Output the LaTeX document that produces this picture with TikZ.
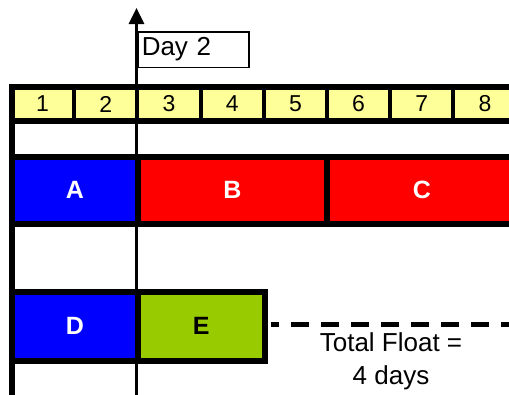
\documentclass[tikz,border=0pt]{standalone}
\usepackage{fontspec}
\setmainfont{Liberation Sans}
\usetikzlibrary{arrows.meta}
\definecolor{dayyellow}{HTML}{FFFF99}
\definecolor{barblue}{HTML}{0000FF}
\definecolor{barred}{HTML}{FF0000}
\definecolor{bargreen}{HTML}{99CC00}
\begin{document}
\begin{tikzpicture}[x=1pt,y=-1pt,
  daycell/.style={fill=dayyellow, draw=black, line width=4pt, minimum width=63.2pt, minimum height=34pt, inner sep=0pt, anchor=center, font=\fontsize{23}{26}\selectfont},
  bar/.style={draw=black, line width=6pt, inner sep=0pt, font=\bfseries\fontsize{25}{28}\selectfont},
  plain/.style={font=\fontsize{26}{33}\selectfont}]
\useasboundingbox (0,0) rectangle (509,394);
\clip (0,0) rectangle (509,394);
% day strip
\foreach \i in {1,...,8} {
  \node[daycell] (d\i) at ({11+63.2*(\i-0.5)},104) {\i};
}
\draw[line width=6pt] (11,87) -- (530,87);
\draw[line width=6pt] (11,121) -- (530,121);
% bars row 1
\node[bar, fill=barblue, text=white, minimum width=126pt, minimum height=66.5pt] (A) at (75,190.25) {A};
\node[bar, fill=barred, text=white, minimum width=189pt, minimum height=66.5pt] (B) at (232.5,190.25) {B};
\node[bar, fill=barred, text=white, minimum width=189.6pt, minimum height=66.5pt] (C) at (421.8,190.25) {C};
% bars row 2
\node[bar, fill=barblue, text=white, minimum width=126pt, minimum height=68.5pt] (D) at (75,326.25) {D};
\node[bar, fill=bargreen, text=black, minimum width=126.5pt, minimum height=68.5pt] (E) at (201.25,326.25) {E};
% float line
\coordinate (fend) at (520,324.7);
\draw[line width=5pt, dash pattern=on 18pt off 12pt, dash phase=9.5pt] ([xshift=3pt]E.east |- fend) -- (fend);
\node[plain, align=center] (tf) at (391,361) {Total Float =\\4 days};
% left line
\coordinate (ltop) at (12,84);
\coordinate (lbot) at (12,400);
\draw[line width=6pt] (ltop) -- (lbot);
% axis
\coordinate (atop) at (136.5,8);
\coordinate (abot) at (136.5,400);
\draw[line width=3pt, -{Triangle[width=15pt,length=16pt]}] (abot) -- (atop);
% day 2 label
\node[draw=black, line width=1.5pt, anchor=north west, text width=103pt, inner xsep=4pt, inner ysep=0pt, minimum height=35.5pt, align=left, plain] (day2) at (137,31) {Day 2};
\end{tikzpicture}
\end{document}
